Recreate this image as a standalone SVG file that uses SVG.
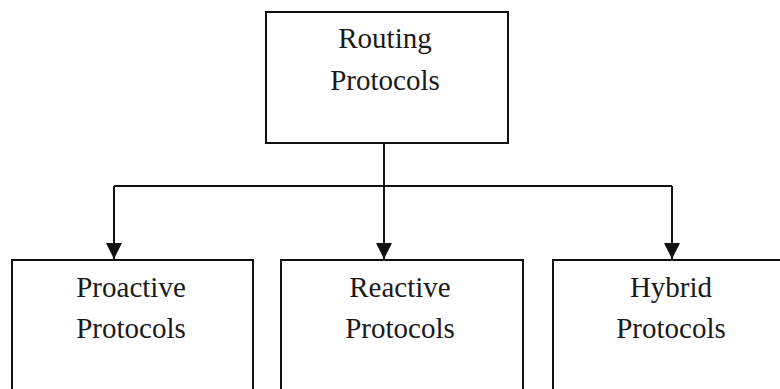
<svg xmlns="http://www.w3.org/2000/svg" width="780" height="389" viewBox="0 0 780 389">
  <style>
    .box { fill: #ffffff; stroke: #111111; stroke-width: 2; }
    .lbl { font-family: "Liberation Serif", "Times New Roman", serif; font-size: 29px; fill: #1a1a1a; text-anchor: middle; }
    .wire { fill: none; stroke: #111111; stroke-width: 2; }
  </style>
  <defs>
    <marker id="arrow" markerUnits="userSpaceOnUse" markerWidth="18" markerHeight="20" refX="16" refY="8" orient="auto">
      <path d="M0,0 L16,8 L0,16 Z" fill="#111111"/>
    </marker>
  </defs>
  <rect width="780" height="389" fill="#ffffff"/>
  <g id="connectors">
    <path class="wire" d="M384,143 L384,186"/>
    <path class="wire" d="M114,186 L672,186"/>
    <path class="wire" d="M114,186 L114,259" marker-end="url(#arrow)"/>
    <path class="wire" d="M384,186 L384,259" marker-end="url(#arrow)"/>
    <path class="wire" d="M672,186 L672,259" marker-end="url(#arrow)"/>
  </g>
  <g id="routing">
    <rect class="box" x="266" y="12" width="242" height="131"/>
    <text class="lbl" x="385" y="48">Routing</text>
    <text class="lbl" x="385" y="90">Protocols</text>
  </g>
  <g id="proactive">
    <rect class="box" x="12" y="260" width="241" height="140"/>
    <text class="lbl" x="131" y="297">Proactive</text>
    <text class="lbl" x="131" y="338">Protocols</text>
  </g>
  <g id="reactive">
    <rect class="box" x="281" y="260" width="242" height="140"/>
    <text class="lbl" x="400" y="297">Reactive</text>
    <text class="lbl" x="400" y="338">Protocols</text>
  </g>
  <g id="hybrid">
    <rect class="box" x="553" y="260" width="241" height="140"/>
    <text class="lbl" x="671" y="297">Hybrid</text>
    <text class="lbl" x="671" y="338">Protocols</text>
  </g>
</svg>
